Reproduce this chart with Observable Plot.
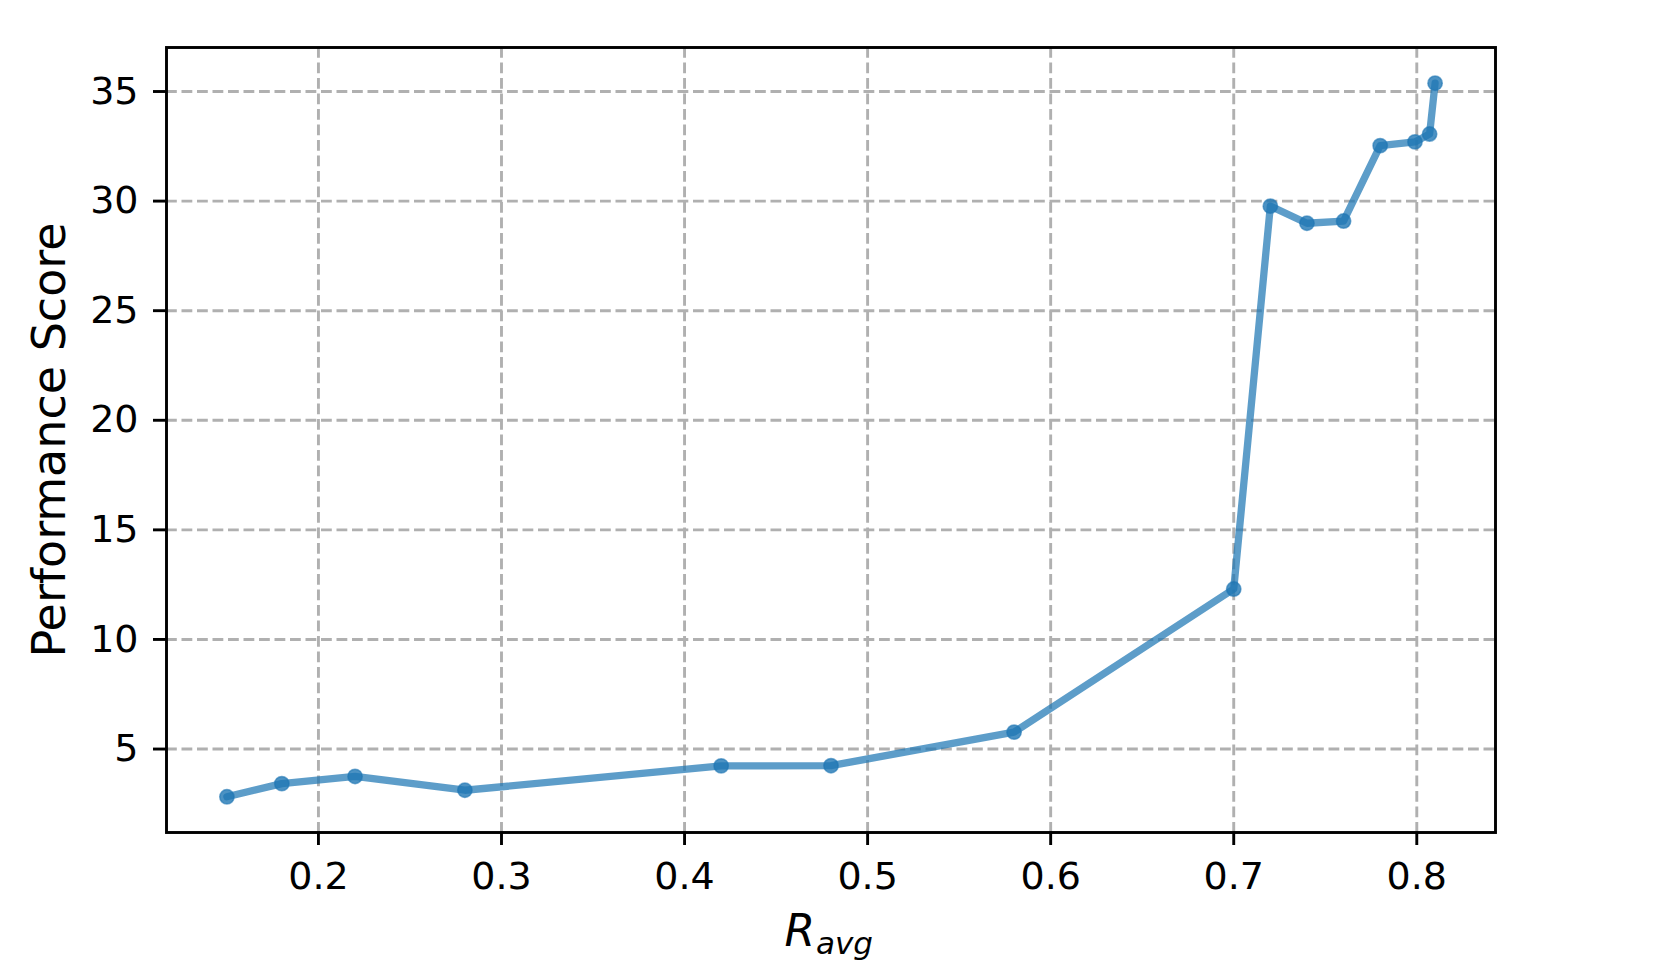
<!DOCTYPE html>
<html>
<head>
<meta charset="utf-8">
<script src="https://cdn.jsdelivr.net/npm/d3@7"></script>
<script src="https://cdn.jsdelivr.net/npm/@observablehq/plot@0.6"></script>
<style>
  html, body { margin: 0; padding: 0; background: #fff; }
</style>
</head>
<body>
<div id="chart"></div>
<script>
const ravg  = [0.15, 0.18, 0.22, 0.28, 0.42, 0.48, 0.58, 0.70, 0.72, 0.74, 0.76, 0.78, 0.799, 0.807, 0.81];
const score = [2.82, 3.42, 3.75, 3.12, 4.23, 4.24, 5.77, 12.3, 29.77, 28.99, 29.09, 32.53, 32.70, 33.06, 35.38];
const xTicks = [0.2, 0.3, 0.4, 0.5, 0.6, 0.7, 0.8];
const yTicks = [5, 10, 15, 20, 25, 30, 35];
const yLabel = "Performance Score";
const xLabelMain = "R";
const xLabelSub = "avg";

const data = ravg.map((x, i) => ({x, y: score[i]}));

// matplotlib-like 5% margins
const xMin = d3.min(ravg), xMax = d3.max(ravg);
const yMin = d3.min(score), yMax = d3.max(score);
const xPad = (xMax - xMin) * 0.05, yPad = (yMax - yMin) * 0.05;

const blue = "#1f77b4";
const gridStyle = {stroke: "#b0b0b0", strokeOpacity: 1, strokeWidth: 2.9, strokeDasharray: "10.8,4.7"};

const chart = Plot.plot({
  width: 1661,
  height: 969,
  marginLeft: 166,
  marginRight: 166,
  marginTop: 47,
  marginBottom: 137,
  style: {fontFamily: "'DejaVu Sans', sans-serif", fontSize: "38px", color: "black", background: "white"},
  x: {domain: [xMin - xPad, xMax + xPad]},
  y: {domain: [yMin - yPad, yMax + yPad]},
  marks: [
    Plot.gridX(xTicks, gridStyle),
    Plot.gridY(yTicks, gridStyle),
    Plot.line(data, {x: "x", y: "y", stroke: blue, strokeOpacity: 0.72, strokeWidth: 7.3}),
    Plot.dot(data, {x: "x", y: "y", r: 7.2, fill: blue, fillOpacity: 0.8, stroke: blue, strokeOpacity: 0.6, strokeWidth: 1.5}),
    Plot.frame({stroke: "black", strokeWidth: 2.9}),
    Plot.axisX({ticks: xTicks, tickFormat: d3.format(".1f"), tickSize: 13, tickPadding: 17, strokeWidth: 2.9, label: null, fontSize: 38}),
    Plot.axisY({ticks: yTicks, tickFormat: d3.format("d"), tickSize: 13, tickPadding: 15, strokeWidth: 2.9, label: null, fontSize: 38}),
    Plot.text([yLabel], {frameAnchor: "left", text: d => d, rotate: -90, dx: -116, fontSize: 46, textAnchor: "middle", lineAnchor: "middle", fill: "black"}),
    Plot.text([xLabelMain], {frameAnchor: "bottom", text: d => d, dx: -16, dy: 113, fontSize: 44, fontStyle: "italic", textAnchor: "end", lineAnchor: "bottom", fill: "black"}),
    Plot.text([xLabelSub], {frameAnchor: "bottom", text: d => d, dx: -15, dy: 121, fontSize: 31, fontStyle: "italic", textAnchor: "start", lineAnchor: "bottom", fill: "black"})
  ]
});
document.getElementById("chart").appendChild(chart);
</script>
</body>
</html>
